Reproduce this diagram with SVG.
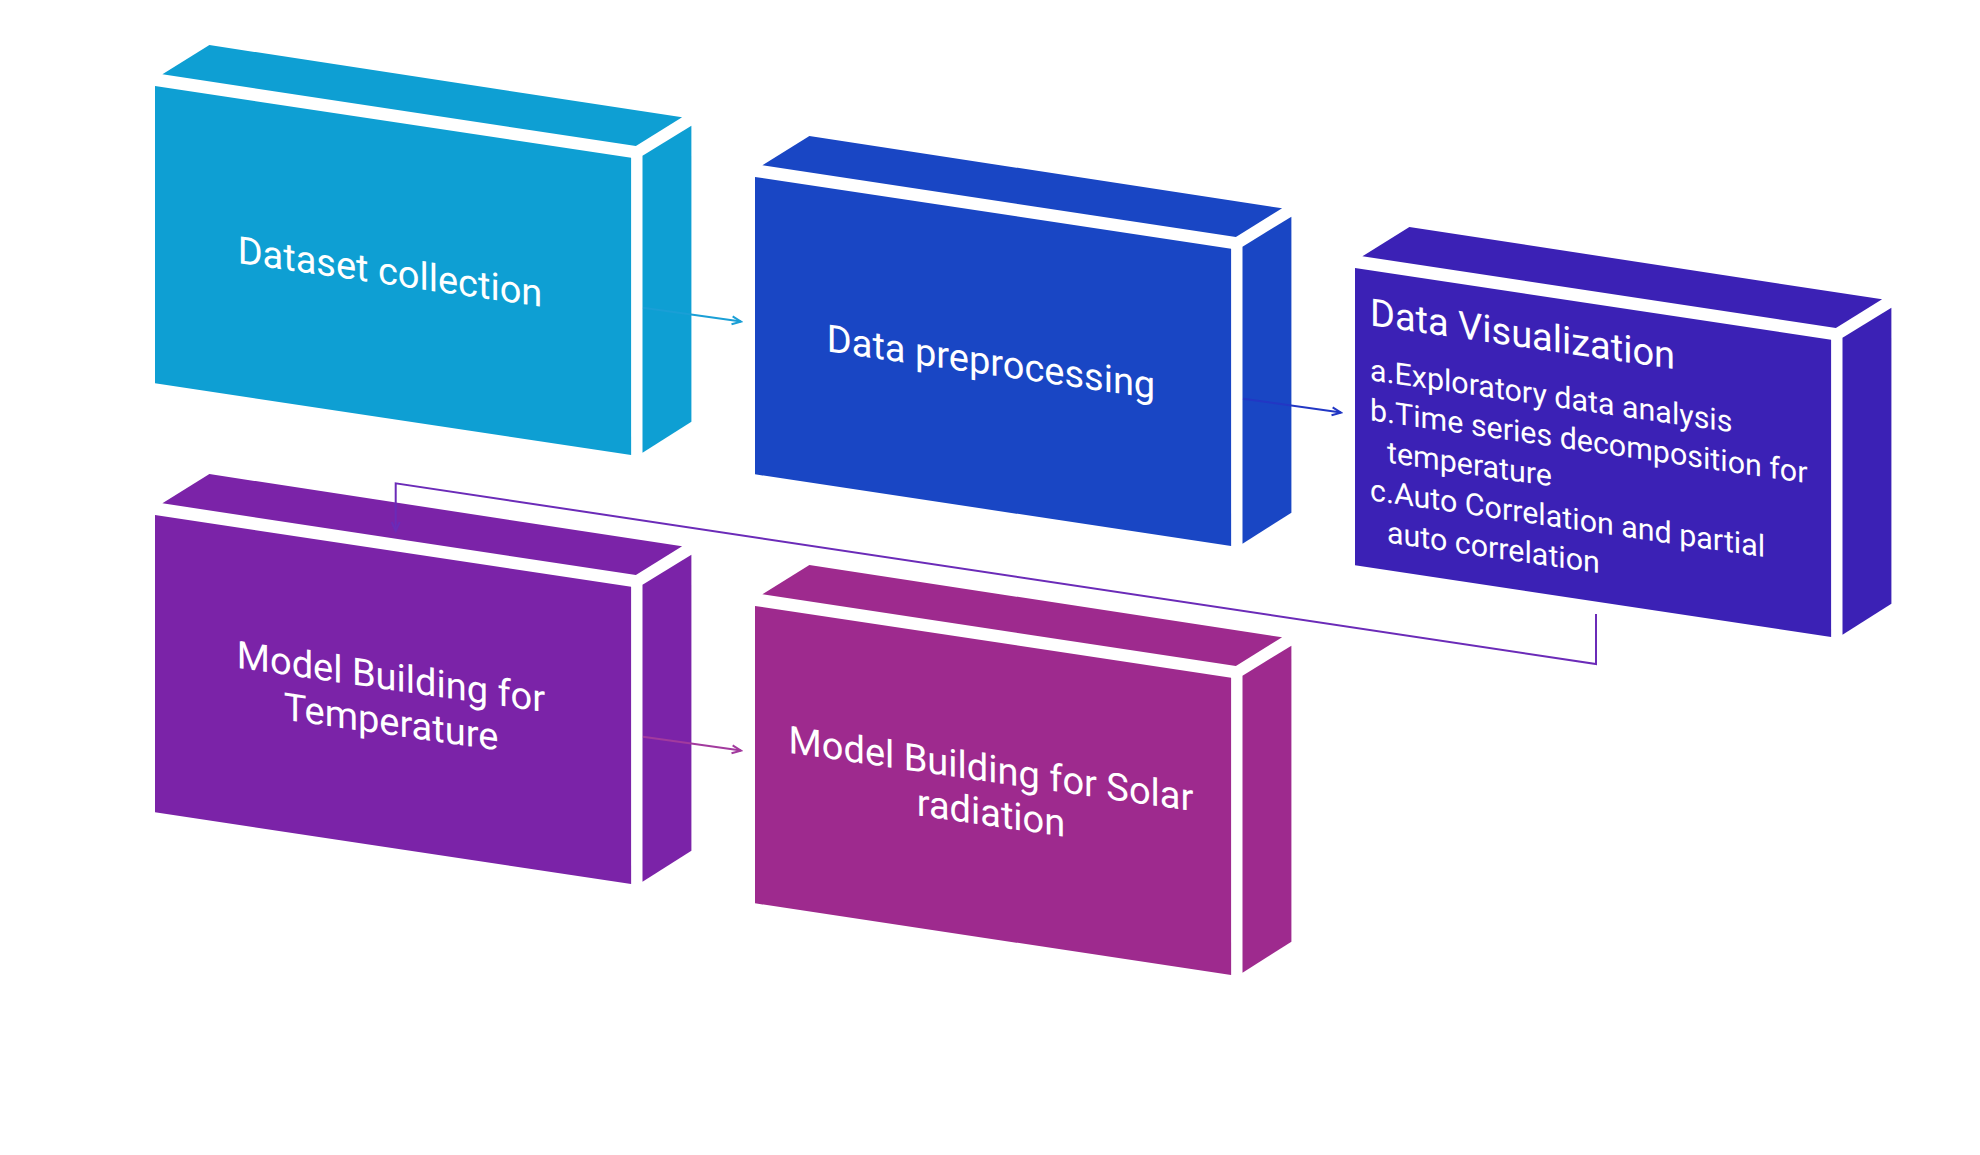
<svg xmlns="http://www.w3.org/2000/svg" xmlns:xlink="http://www.w3.org/1999/xlink" width="1980" height="1155" viewBox="0 0 1980 1155">
  <style>
    .lbl { font-family: Roboto, "Liberation Sans", sans-serif; font-size: 38px; fill: #ffffff; }
    .lbl-c { text-anchor: middle; }
    .item { font-family: Roboto, "Liberation Sans", sans-serif; font-size: 30.4px; fill: #ffffff; }
    .conn { fill: none; stroke-width: 2; }
  </style>
  <defs>
    <g id="box">
      <polygon points="54.4,-41 7.4,-11.7 480.9,60 527.1,31.3"/>
      <polygon points="0,0 476.1,71.7 476.1,369 0,297.3"/>
      <polygon points="487.5,69.7 536.4,39.7 536.4,335.7 487.5,366.7"/>
    </g>
    <marker id="arrCyan" markerWidth="12" markerHeight="12" refX="10" refY="5" orient="auto" markerUnits="userSpaceOnUse" viewBox="0 0 12 10">
      <path d="M1,1 L10,5 L1,9" fill="none" stroke="#1A9FD6" stroke-width="2"/>
    </marker>
    <marker id="arrBlue" markerWidth="12" markerHeight="12" refX="10" refY="5" orient="auto" markerUnits="userSpaceOnUse" viewBox="0 0 12 10">
      <path d="M1,1 L10,5 L1,9" fill="none" stroke="#2237C4" stroke-width="2"/>
    </marker>
    <marker id="arrMag" markerWidth="12" markerHeight="12" refX="10" refY="5" orient="auto" markerUnits="userSpaceOnUse" viewBox="0 0 12 10">
      <path d="M1,1 L10,5 L1,9" fill="none" stroke="#A23A9E" stroke-width="2"/>
    </marker>
    <marker id="arrPur" markerWidth="12" markerHeight="12" refX="10" refY="5" orient="auto" markerUnits="userSpaceOnUse" viewBox="0 0 12 10">
      <path d="M1,1 L10,5 L1,9" fill="none" stroke="#6B2BB8" stroke-width="2"/>
    </marker>
  </defs>
  <rect width="1980" height="1155" fill="#ffffff"/>

  <g id="node-dataset-collection">
    <use xlink:href="#box" href="#box" transform="translate(155,86)" fill="#0E9FD3"/>
    <g transform="translate(155,86) skewY(8.2)">
      <text class="lbl lbl-c" x="235" y="165">Dataset collection</text>
    </g>
  </g>

  <g id="node-data-preprocessing">
    <use xlink:href="#box" href="#box" transform="translate(755,177)" fill="#1946C4"/>
    <g transform="translate(755,177) skewY(8.2)">
      <text class="lbl lbl-c" x="236" y="164">Data preprocessing</text>
    </g>
  </g>

  <g id="node-data-visualization">
    <use xlink:href="#box" href="#box" transform="translate(1355,268)" fill="#3B21B5"/>
    <g transform="translate(1355,268) skewY(8.2)">
      <text class="lbl" x="15" y="55">Data Visualization</text>
      <text class="item" x="15" y="110">a.Exploratory data analysis</text>
      <text class="item" x="15" y="150">b.Time series decomposition for</text>
      <text class="item" x="32" y="190">temperature</text>
      <text class="item" x="15" y="230">c.Auto Correlation and partial</text>
      <text class="item" x="32" y="270">auto correlation</text>
    </g>
  </g>

  <g id="node-model-temperature">
    <use xlink:href="#box" href="#box" transform="translate(155,515)" fill="#7B23A8"/>
    <g transform="translate(155,515) skewY(8.2)">
      <text class="lbl lbl-c" x="236" y="141">Model Building for</text>
      <text class="lbl lbl-c" x="236" y="186">Temperature</text>
    </g>
  </g>

  <g id="node-model-solar">
    <use xlink:href="#box" href="#box" transform="translate(755,606)" fill="#9E2A8E"/>
    <g transform="translate(755,606) skewY(8.2)">
      <text class="lbl lbl-c" x="236" y="142">Model Building for Solar</text>
      <text class="lbl lbl-c" x="236" y="186">radiation</text>
    </g>
  </g>

  <g id="connectors">
    <line class="conn" x1="643" y1="307.7" x2="741" y2="321.6" stroke="#1A9FD6" marker-end="url(#arrCyan)"/>
    <line class="conn" x1="1243" y1="398.7" x2="1341" y2="412.6" stroke="#2237C4" marker-end="url(#arrBlue)"/>
    <line class="conn" x1="643" y1="736.7" x2="741" y2="750.6" stroke="#A23A9E" marker-end="url(#arrMag)"/>
    <polyline class="conn" points="1596,614 1596,664 395.7,483.3 395.7,531" stroke="#6B2BB8" marker-end="url(#arrPur)"/>
  </g>
</svg>
